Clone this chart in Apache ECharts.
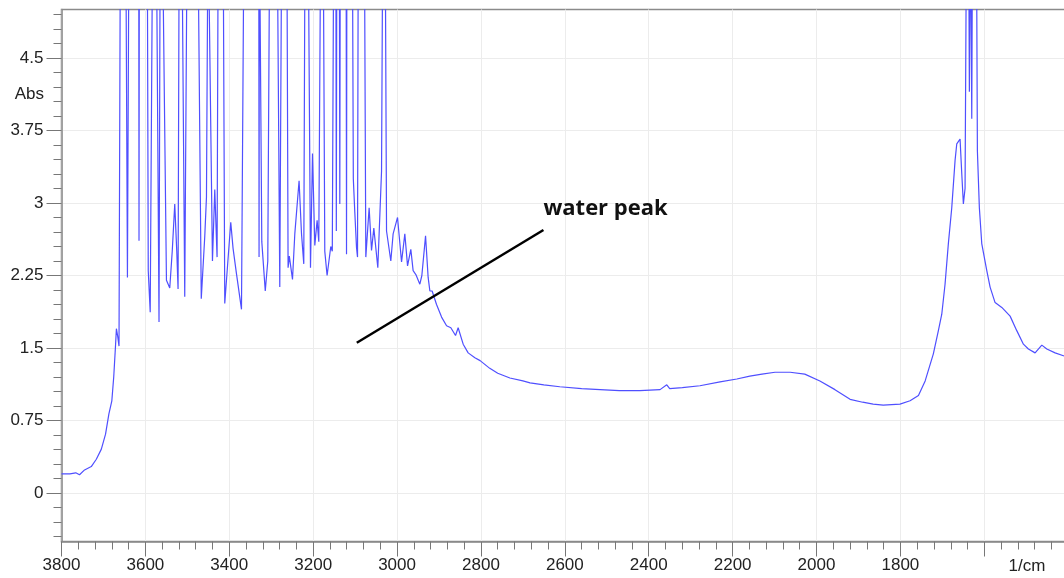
<!DOCTYPE html>
<html>
<head>
<meta charset="utf-8">
<script src="https://cdn.jsdelivr.net/npm/echarts@6/dist/echarts.min.js"></script>
<style>
html,body{margin:0;padding:0;background:#fff;}
#chart{width:1064px;height:578px;}
</style>
</head>
<body>
<div id="chart"></div>
<script>
// wavenumber (1/cm), high to low
const wavenumber = [
3800,3780,3766,3757,3745,3729,3717,3705,3695,3687,3680,3675.5,3671.4,3669.1,3666,3662.9,
3659.5,3646.9,3642.8,3639.0,3615.9,3615.2,3614.4,3595.6,3593.2,3588.5,3582.5,3574.1,3567.5,3564.6,
3559.8,3549.8,3541.9,3536.0,3530.0,3525.2,3522.1,3519.3,3513.3,3506.2,3500.2,3475.2,3466.8,3458.5,
3454.4,3450.6,3446.5,3440.1,3434.6,3429.1,3426.3,3414.8,3410.8,3396.5,3391.0,3382.9,3370.9,3364.7,
3329.7,3329.0,3328.2,3325.6,3322.5,3314.2,3308.2,3303.4,3286.0,3279.6,3274.8,3262.9,3259.8,3256.9,
3249.3,3243.8,3233.6,3227.8,3222.4,3219.3,3212.1,3206.4,3201.6,3196.1,3190.6,3186.6,3181.8,3176.3,
3172.3,3166.8,3158.0,3154.4,3150.8,3146.0,3144.8,3143.6,3137.7,3136.5,3135.3,3121.5,3120.5,3119.6,
3106.7,3104.3,3100.7,3096.7,3094.3,3092.4,3078.1,3074.5,3066.6,3060.9,3055.4,3045.9,3037.0,3033.9,
3028.5,3025.1,3014.9,3009.4,2998.9,2989.3,2981.5,2975.0,2967.2,2961.7,2955.2,2945.7,2940.9,2932.1,
2925.9,2921.8,2916.4,2905.9,2893.9,2882.0,2871.8,2860.6,2854.4,2842.4,2830.5,2814.5,2802,2779,2760,
2731,2700,2683,2650,2612,2560,2516,2470,2421,2373,2357,2350,2320,2278,2230,2190,2159,2130,2099,2063,
2028,1992,1956,1920,1890,1865,1841,1801,1777,1757,1741,1721.5,1709.5,1701.4,1693.6,1685.7,1677.6,
1669.7,1665.7,1661.8,1657.8,1653.7,1649.9,1645.9,1642.3,1637.5,1635.6,1633.2,1631.6,1629.9,1628,
1618.9,1616.5,1611.8,1606.1,1594.1,1586.2,1574.3,1558.3,1538.5,1522.6,1506.8,1494.9,1478.9,1462.9,
1451,1431.2,1411.4,1400
];
// absorbance (6 = off scale, above the top of the plot)
const absorbance = [
0.20,0.20,0.21,0.19,0.24,0.275,0.35,0.455,0.61,0.82,0.955,1.20,1.51,1.70,1.62,1.52,
6,6,2.23,6,6,2.61,6,6,2.3,1.87,6,6,1.77,6,
6,2.2,2.12,2.5,2.99,2.5,2.11,6,6,2.03,6,6,2.01,2.65,
3.06,6,6,2.40,3.14,2.44,6,6,1.96,2.80,2.53,2.27,1.90,6,
6,2.44,6,6,2.6,2.09,2.4,6,6,2.13,6,6,2.33,2.45,
2.21,2.68,3.23,2.68,2.37,6,6,2.33,3.51,2.56,2.82,2.6,6,6,
2.5,2.25,2.55,2.5,6,6,2.71,6,6,2.99,6,6,2.47,6,
6,3.25,2.9,2.54,2.44,6,6,2.44,2.95,2.51,2.74,2.33,3.33,6,
6,2.71,2.40,2.68,2.85,2.39,2.68,2.35,2.52,2.30,2.26,2.16,2.25,2.66,
2.23,2.09,2.09,1.95,1.82,1.73,1.71,1.63,1.71,1.54,1.45,1.40,1.37,1.29,1.24,
1.19,1.16,1.14,1.12,1.10,1.08,1.07,1.06,1.06,1.07,1.12,1.08,1.09,1.11,1.15,1.18,1.21,1.23,1.25,1.25,
1.23,1.16,1.07,0.97,0.94,0.92,0.91,0.92,0.955,1.01,1.16,1.44,1.68,1.85,2.16,2.58,2.95,
3.44,3.61,3.60,3.66,3.30,2.99,3.15,6,6,4.15,6,6,3.87,6,
6,3.54,2.95,2.58,2.30,2.13,1.97,1.92,1.83,1.68,1.54,1.49,1.45,1.53,
1.49,1.45,1.42,1.41
];
const xTickLabels = [3800,3600,3400,3200,3000,2800,2600,2400,2200,2000,1800];
const yTickLabels = [0,0.75,1.5,2.25,3,3.75,4.5];
const yMinorTicks = [-0.45,-0.3,-0.15,0.15,0.3,0.45,0.6,0.9,1.05,1.2,1.35,1.65,1.8,1.95,2.1,2.4,2.55,2.7,2.85,
  3.15,3.3,3.45,3.6,3.9,4.05,4.2,4.35,4.65,4.8,4.95];
const annotationLine = [[3096,1.555],[2651,2.72]];
const annotationText = {text:'water peak', at:[2651,2.94]};

const data = wavenumber.map((w,i)=>[w, absorbance[i]]);
const axisFont = 'Liberation Sans, Arial, sans-serif';
const chart = echarts.init(document.getElementById('chart'), null, {renderer:'canvas'});
chart.setOption({
  animation:false,
  backgroundColor:'#fff',
  grid:{left:61.5,width:1006.7,top:9.5,height:532,containLabel:false,outerBoundsMode:'none',
    show:true,borderColor:'#8a8a8a',borderWidth:1.5},
  xAxis:{
    type:'value',min:1400,max:3800,interval:200,inverse:true,
    axisLine:{show:true,onZero:false,lineStyle:{color:'#8a8a8a',width:1.5}},
    axisTick:{show:true,length:15,lineStyle:{color:'#777'}},
    minorTick:{show:true,splitNumber:5,length:8,lineStyle:{color:'#777'}},
    axisLabel:{fontSize:17,color:'#222',margin:15,fontFamily:axisFont,
      formatter:v=> xTickLabels.indexOf(v)>=0 ? String(v) : ''},
    splitLine:{show:true,lineStyle:{color:'#ececec',width:1}}
  },
  yAxis:[{
    type:'value',min:-0.5,max:5,position:'left',
    axisLine:{show:true,onZero:false,lineStyle:{color:'#8a8a8a',width:1.5}},
    axisTick:{show:true,length:15,customValues:yTickLabels,lineStyle:{color:'#777'}},
    axisLabel:{customValues:yTickLabels,fontSize:17,color:'#222',margin:18,fontFamily:axisFont},
    splitLine:{show:true,lineStyle:{color:'#ececec',width:1}}
  },{
    type:'value',min:-0.5,max:5,position:'left',
    axisLine:{show:false,onZero:false},
    axisTick:{show:true,length:8,customValues:yMinorTicks,lineStyle:{color:'#777'}},
    axisLabel:{show:false},
    splitLine:{show:false}
  }],
  graphic:[
    {type:'text',style:{x:44,y:94,text:'Abs',textAlign:'right',textVerticalAlign:'middle',fontSize:17,fill:'#222',fontFamily:axisFont}},
    {type:'text',style:{x:1027,y:566,text:'1/cm',textAlign:'center',textVerticalAlign:'middle',fontSize:17,fill:'#222',fontFamily:axisFont}}
  ],
  series:[{
    type:'line',data:data,yAxisIndex:0,showSymbol:false,symbol:'none',clip:true,sampling:null,
    lineStyle:{color:'#4f4fff',width:1.2},
    markLine:{silent:true,symbol:['none','none'],animation:false,
      lineStyle:{color:'#000',width:2.5,type:'solid'},label:{show:false},
      data:[[{coord:annotationLine[0]},{coord:annotationLine[1]}]]},
    markPoint:{silent:true,animation:false,
      data:[{coord:annotationText.at,symbol:'circle',symbolSize:0,
        label:{show:true,position:'right',distance:0,formatter:annotationText.text,
          fontFamily:'Open Sans',fontWeight:'bold',fontSize:22,color:'#111'}}]}
  }]
});
</script>
</body>
</html>
